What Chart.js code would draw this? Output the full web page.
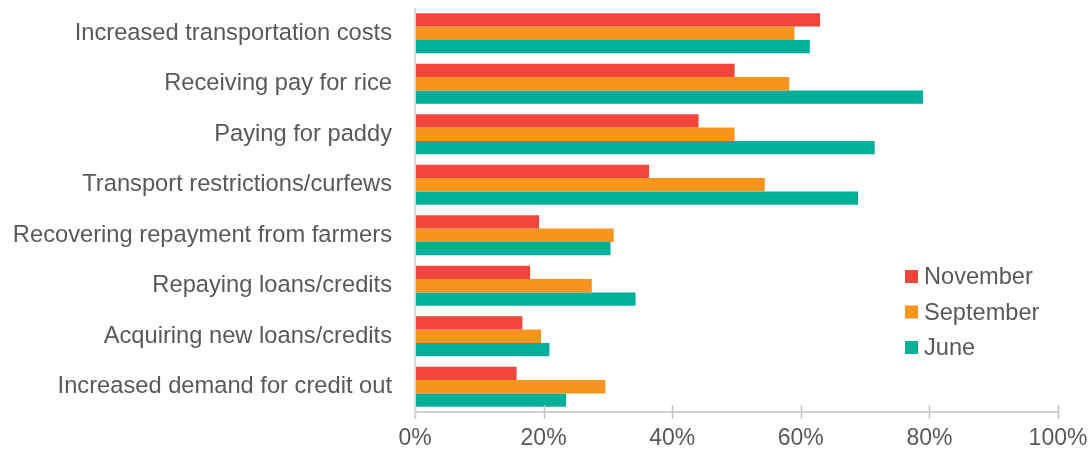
<!DOCTYPE html>
<html>
<head>
<meta charset="utf-8">
<script src="https://cdn.jsdelivr.net/npm/chart.js@4/dist/chart.umd.min.js"></script>
<style>
html,body{margin:0;padding:0;background:#fff;}
#wrap{width:1090px;height:450px;position:relative;}
</style>
</head>
<body>
<div id="wrap"><canvas id="c" width="1090" height="450"></canvas></div>
<script>
const categories = [
  "Increased transportation costs",
  "Receiving pay for rice",
  "Paying for paddy",
  "Transport restrictions/curfews",
  "Recovering repayment from farmers",
  "Repaying loans/credits",
  "Acquiring new loans/credits",
  "Increased demand for credit out"
];
const november  = [63.0, 49.7, 44.1, 36.4, 19.3, 17.9, 16.7, 15.8];
const september = [59.0, 58.2, 49.7, 54.4, 30.9, 27.5, 19.6, 29.6];
const june      = [61.4, 79.0, 71.5, 68.9, 30.4, 34.3, 20.9, 23.5];
const tickLabels = ["0%", "20%", "40%", "60%", "80%", "100%"];

const FONT = "'Liberation Sans', Arial, sans-serif";
const TEXT = "#595959";

const crossTicks = {
  id: 'crossTicks',
  afterDraw(chart) {
    const ctx = chart.ctx, xs = chart.scales.x, b = chart.chartArea.bottom;
    ctx.save();
    ctx.strokeStyle = '#c4c4c4';
    ctx.lineWidth = 1.5;
    ctx.beginPath();
    ctx.moveTo(chart.chartArea.left, b);
    ctx.lineTo(xs.getPixelForValue(100), b);
    xs.ticks.forEach(t => {
      const px = Math.round(xs.getPixelForValue(t.value)) + 0.5;
      ctx.moveTo(px, b - 7);
      ctx.lineTo(px, b + 7);
    });
    ctx.stroke();
    ctx.strokeStyle = '#d9d9d9';
    ctx.lineWidth = 2;
    ctx.beginPath();
    ctx.moveTo(chart.chartArea.left, chart.chartArea.top);
    ctx.lineTo(chart.chartArea.left, b + 7);
    ctx.stroke();
    ctx.restore();
  }
};

const sideLegend = {
  id: 'sideLegend',
  afterDraw(chart) {
    const ctx = chart.ctx;
    ctx.save();
    ctx.font = "23.6px " + FONT;
    ctx.textBaseline = 'middle';
    ctx.textAlign = 'left';
    const ys = [276.5, 312, 347.5];
    chart.data.datasets.forEach((ds, i) => {
      const y = ys[i];
      ctx.fillStyle = ds.backgroundColor;
      ctx.fillRect(905, y - 6.5, 13, 13);
      ctx.fillStyle = TEXT;
      ctx.fillText(ds.label, 924, y + 1);
    });
    ctx.restore();
  }
};

new Chart(document.getElementById('c'), {
  type: 'bar',
  data: {
    labels: categories,
    datasets: [
      { label: 'November', data: november, backgroundColor: '#F0463C' },
      { label: 'September', data: september, backgroundColor: '#F7941E' },
      { label: 'June', data: june, backgroundColor: '#00AF9A' }
    ]
  },
  options: {
    indexAxis: 'y',
    responsive: false,
    animation: false,
    devicePixelRatio: 1,
    layout: { padding: { top: 8, right: 32, left: 0, bottom: 0 } },
    datasets: { bar: { categoryPercentage: 0.792, barPercentage: 1.0 } },
    plugins: { legend: { display: false }, tooltip: { enabled: false } },
    scales: {
      x: {
        min: 0, max: 100,
        ticks: {
          stepSize: 20,
          color: TEXT,
          font: { family: FONT, size: 23 },
          padding: 0,
          maxRotation: 0,
          callback: (v, i) => tickLabels[i]
        },
        grid: { display: true, drawOnChartArea: false, drawTicks: true, tickLength: 13, tickColor: 'rgba(0,0,0,0)', color: 'rgba(0,0,0,0)' },
        border: { display: false },
        afterFit(s) { s.height = 38; s.paddingLeft = 0; s.paddingRight = 0; }
      },
      y: {
        ticks: {
          color: TEXT,
          font: { family: FONT, size: 23.7 },
          padding: 0
        },
        grid: { display: true, drawOnChartArea: false, drawTicks: true, tickLength: 23, tickColor: 'rgba(0,0,0,0)', color: 'rgba(0,0,0,0)' },
        border: { display: false },
        afterFit(s) { s.width = 415; s.paddingTop = 0; s.paddingBottom = 0; }
      }
    }
  },
  plugins: [crossTicks, sideLegend]
});
</script>
</body>
</html>
